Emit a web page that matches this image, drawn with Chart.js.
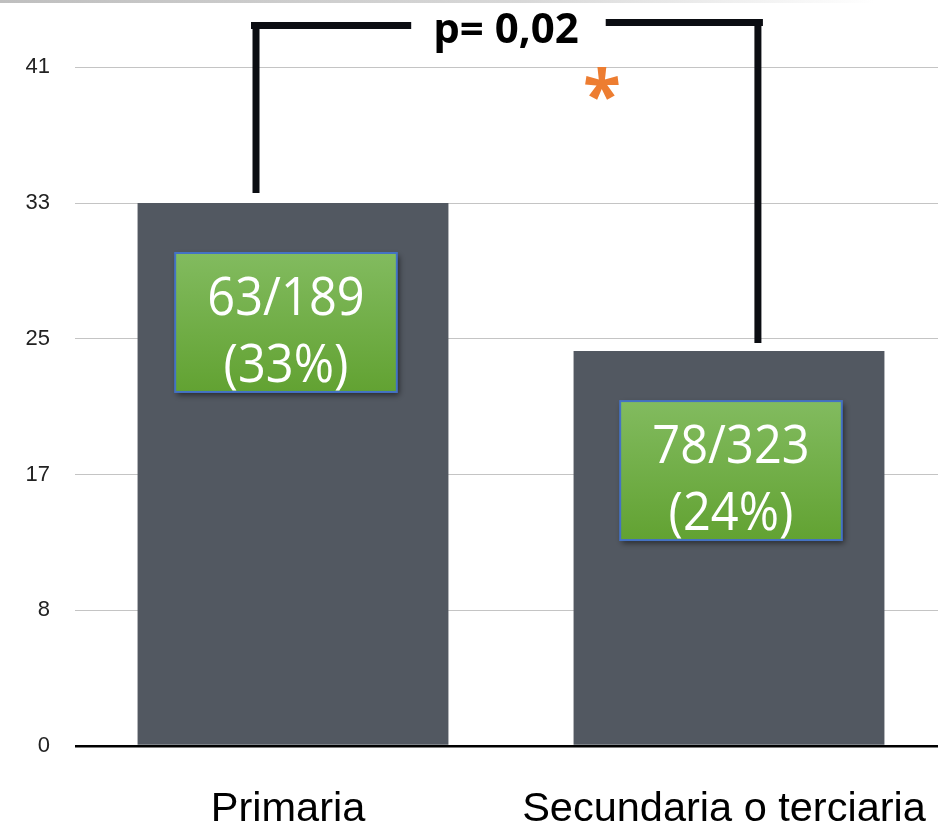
<!DOCTYPE html>
<html>
<head>
<meta charset="utf-8">
<script src="https://cdn.jsdelivr.net/npm/chart.js@4"></script>
<style>
  html, body { margin: 0; padding: 0; background: #fff; overflow: hidden; width: 938px; height: 828px; }
  #wrap { position: relative; width: 950px; height: 828px; }
  canvas { display: block; }
</style>
</head>
<body>
<div id="wrap"><canvas id="c" width="950" height="828"></canvas></div>
<script>
// ---- data ----
const categories = ['Primaria', 'Secundaria o terciaria'];
const values = [33, 24];
const boxLine1 = ['63/189', '78/323'];
const boxLine2 = ['(33%)', '(24%)'];
const tickValues = [0, 8.25, 16.5, 24.75, 33, 41.25];
const tickLabels = ['0', '8', '17', '25', '33', '41'];
const yMax = 44;
const pValueText = 'p= 0,02';
const significanceMark = '*';

const annotationPlugin = {
  id: 'annotations',
  beforeDraw(chart) {
    const ctx = chart.ctx;
    ctx.save();
    const g = ctx.createLinearGradient(0, 0, 875, 0);
    g.addColorStop(0, '#bfbfbf');
    g.addColorStop(0.6, '#d8d8d8');
    g.addColorStop(1, '#ffffff');
    ctx.fillStyle = g;
    ctx.fillRect(0, 0, 875, 3);
    ctx.restore();
  },
  afterDatasetsDraw(chart) {
    const ctx = chart.ctx;
    const bars = chart.getDatasetMeta(0).data;
    const area = chart.chartArea;
    ctx.save();

    // green boxes with text
    const boxOffsets = [-7, 2];
    bars.forEach((bar, i) => {
      const w = bar.width * 0.713;
      const h = bar.width * 0.447;
      const cx = bar.x + boxOffsets[i];
      const top = bar.y + 50;
      const left = cx - w / 2;
      ctx.save();
      ctx.shadowColor = 'rgba(0,0,0,0.55)';
      ctx.shadowBlur = 6;
      ctx.shadowOffsetX = 2;
      ctx.shadowOffsetY = 3;
      const grad = ctx.createLinearGradient(0, top, 0, top + h);
      grad.addColorStop(0, '#82bb5f');
      grad.addColorStop(1, '#62a232');
      ctx.fillStyle = grad;
      ctx.fillRect(left, top, w, h);
      ctx.restore();
      ctx.strokeStyle = '#4472c4';
      ctx.lineWidth = 2;
      ctx.strokeRect(left, top, w, h);

      ctx.fillStyle = '#ffffff';
      ctx.textAlign = 'center';
      ctx.textBaseline = 'alphabetic';
      ctx.font = '53px "Open Sans"';
      [[boxLine1[i], 62], [boxLine2[i], 129]].forEach(([t, dy]) => {
        ctx.save();
        ctx.translate(cx, top + dy);
        ctx.scale(0.92, 1);
        ctx.fillText(t, 0, 0);
        ctx.restore();
      });
    });

    // significance bracket
    const b1 = bars[0], b2 = bars[1];
    const lx = b1.x - b1.width * 0.119;
    const rx = b2.x + b2.width * 0.093;
    const lBottom = b1.y - 10;
    const rBottom = b2.y - 8;
    const lTop = area.top + 3.5;
    const rTop = area.top + 0.5;
    const mid = (lx + rx) / 2;

    ctx.font = 'bold 42px "Open Sans"';
    ctx.textAlign = 'center';
    ctx.textBaseline = 'alphabetic';
    const tw = ctx.measureText(pValueText).width;
    ctx.fillStyle = '#000000';
    ctx.fillText(pValueText, mid - 1, area.top + 21);

    ctx.strokeStyle = '#0b0d12';
    ctx.lineWidth = 7;
    ctx.lineCap = 'butt';
    ctx.beginPath();
    ctx.moveTo(lx, lBottom);
    ctx.lineTo(lx, lTop);
    ctx.moveTo(lx - 5, lTop);
    ctx.lineTo(mid - tw / 2 - 23, lTop);
    ctx.moveTo(mid + tw / 2 + 26, rTop);
    ctx.lineTo(rx + 5, rTop);
    ctx.moveTo(rx, rTop);
    ctx.lineTo(rx, rBottom);
    ctx.stroke();

    // orange asterisk
    ctx.fillStyle = '#ed7d31';
    ctx.textAlign = 'left';
    ctx.textBaseline = 'alphabetic';
    ctx.font = 'bold 100px "Open Sans"';
    const m = ctx.measureText(significanceMark);
    const gw = m.actualBoundingBoxLeft + m.actualBoundingBoxRight;
    const size = 100 * 34 / gw;
    ctx.font = 'bold ' + size + 'px "Open Sans"';
    const m2 = ctx.measureText(significanceMark);
    const ax = rx - 156;
    const ay = area.top + 61;
    const gcy = (m2.actualBoundingBoxDescent - m2.actualBoundingBoxAscent) / 2;
    const gcx = (m2.actualBoundingBoxRight - m2.actualBoundingBoxLeft) / 2;
    ctx.fillText(significanceMark, ax - gcx, ay - gcy);

    ctx.restore();
  }
};

new Chart(document.getElementById('c'), {
  type: 'bar',
  data: {
    labels: categories,
    datasets: [{
      data: values,
      backgroundColor: '#525861',
      borderWidth: 0,
      categoryPercentage: 1,
      barPercentage: 0.713
    }]
  },
  options: {
    responsive: false,
    animation: false,
    devicePixelRatio: 1,
    layout: { padding: { top: 22, right: 3, left: 0, bottom: 0 } },
    plugins: { legend: { display: false }, tooltip: { enabled: false } },
    scales: {
      x: {
        grid: { display: false, drawTicks: false },
        border: { display: false },
        ticks: {
          color: '#000000',
          font: { family: '"Liberation Sans", Arial, sans-serif', size: 41.5 },
          padding: 39,
          labelOffset: -5,
          maxRotation: 0,
          autoSkip: false
        },
        afterFit(scale) {
          scale.height = 82;
          scale.paddingLeft = 0;
          scale.paddingRight = 0;
        }
      },
      y: {
        min: 0,
        max: yMax,
        afterBuildTicks(scale) {
          scale.ticks = tickValues.map(v => ({ value: v }));
        },
        grid: {
          drawTicks: false,
          color: ctx => (ctx.tick && ctx.tick.value === 0) ? '#000000' : '#c4c4c4',
          lineWidth: ctx => (ctx.tick && ctx.tick.value === 0) ? 2.5 : 1
        },
        border: { display: false },
        ticks: {
          color: '#222222',
          font: { family: '"Liberation Sans", Arial, sans-serif', size: 22 },
          padding: 25,
          callback: (v, i) => tickLabels[i]
        },
        afterFit(scale) {
          scale.width = 75;
          scale.paddingTop = 0;
          scale.paddingBottom = 0;
        }
      }
    }
  },
  plugins: [annotationPlugin]
});
</script>
</body>
</html>
